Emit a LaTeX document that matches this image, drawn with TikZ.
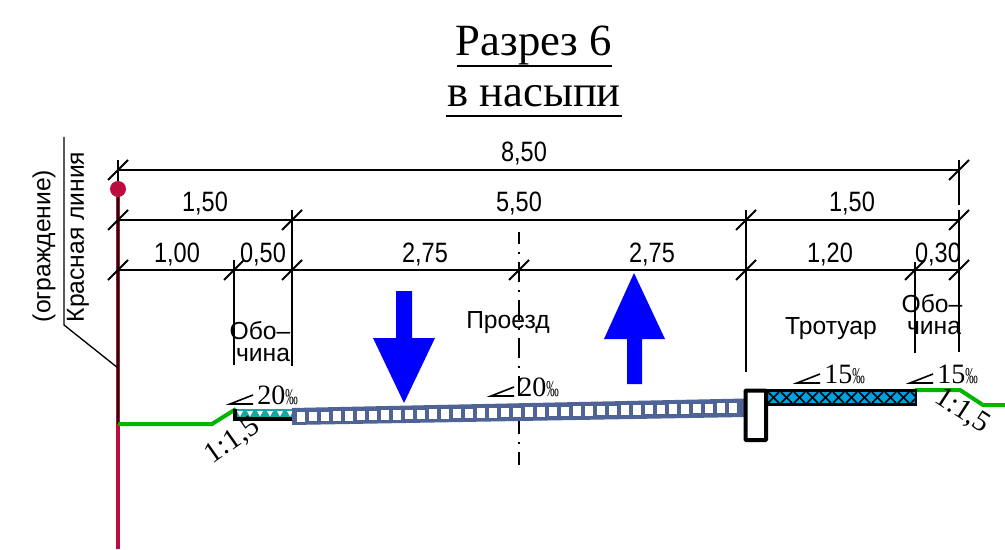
\documentclass[tikz,border=0pt]{standalone}
\usepackage{fontspec}
\usepackage{xcolor}
\setmainfont{Liberation Serif}
\newfontfamily\cadfont[FakeStretch=0.84]{Liberation Sans}
\newfontfamily\zonefont{Liberation Sans}
\newfontfamily\permfont[FakeStretch=0.55]{Liberation Serif}
\definecolor{roadblue}{HTML}{4F6397}
\definecolor{crimsonline}{HTML}{BE0A3C}
\definecolor{groundgreen}{HTML}{00B400}
\definecolor{walkblue}{HTML}{00A0E0}
\definecolor{shoulderteal}{HTML}{18A8A0}
\tikzset{
  dimline/.style={line width=1.5pt},
  extline/.style={line width=1.3pt},
  dimlabel/.style={font=\cadfont\fontsize{21}{21}\selectfont, inner sep=0pt},
  cadlabel/.style={font=\zonefont\fontsize{18.5}{18.5}\selectfont, inner sep=0pt},
  titlelabel/.style={font=\fontsize{33.5}{33.5}\selectfont, inner sep=0pt},
  slopelabel/.style={font=\fontsize{21}{21}\selectfont, inner sep=0pt, anchor=base west},
  permille/.style={font=\permfont\fontsize{17}{17}\selectfont, inner sep=0pt, anchor=base west},
  ratiolabel/.style={font=\fontsize{22}{22}\selectfont, inner sep=0pt},
  groundline/.style={groundgreen, line width=3pt},
  bigarrow/.style={fill=blue, draw=none}
}
\begin{document}
\begin{tikzpicture}[x=0.75pt,y=-0.75pt]
\useasboundingbox (0,0) rectangle (1005,549);
% title
\node[titlelabel] (title1) at (534,45) {Разрез 6};
\node[titlelabel] (title2) at (534,96) {в насыпи};
\draw[line width=1.8pt] (457,66) -- (612,66);
\draw[line width=1.8pt] (446,116) -- (622,116);
% red line
\draw[crimsonline, line width=2.4pt] (118,189) -- (118,549);
\draw[black, line width=1.2pt] (118,160) -- (118,424);
\fill[crimsonline] (118,189) circle (8);
% leader with rotated labels
\draw[line width=1pt] (64,137) -- (64,325) -- (118,368);
\node[rotate=90, cadlabel] (fence) at (44,246) {(ограждение)};
\node[rotate=90, cadlabel] (redline) at (78,237) {Красная линия};
% dimension chains
\draw[dimline] (118,170) -- (959,170);
\draw[dimline] (118,220) -- (959,220);
\draw[dimline] (118,270) -- (959,270);
\foreach \x/\y in {118/170, 959/170, 118/220, 292/220, 746/220, 959/220, 118/270, 234/270, 292/270, 519/270, 746/270, 915/270, 959/270}
    \draw[dimline] (\x-10,\y+10) -- (\x+10,\y-10);
\foreach \x/\ya/\yb in {292/210/366, 234/260/365, 746/210/372, 915/262/353, 959/160/205, 959/210/352}
    \draw[extline] (\x,\ya) -- (\x,\yb);
% axis
\draw[extline, dash pattern=on 15pt off 6pt on 1.5pt off 6pt, dash phase=6pt] (519,232) -- (519,465);
\foreach \x/\y/\t in {524/154/{8,50}, 205/204/{1,50}, 519/204/{5,50}, 852/204/{1,50}, 177/255/{1,00}, 263/255/{0,50}, 425/255/{2,75}, 652/255/{2,75}, 830/255/{1,20}, 938/255/{0,30}}
    \node[dimlabel] at (\x,\y) {\t};
% zone labels
\node[cadlabel] (shoulderA) at (260,331) {Обо–};
\node[cadlabel] (shoulderB) at (263,355) {чина};
\node[cadlabel] (driveway) at (508,323) {Проезд};
\node[cadlabel] (walkway) at (831,329) {Тротуар};
\node[cadlabel] (shoulderC) at (932,304) {Обо–};
\node[cadlabel] (shoulderD) at (934,328) {чина};
% ground
\draw[groundline] (118,424) -- (212,424) -- (236,409);
\draw[groundline] (915,390) -- (960,390) -- (983,405) -- (1005,405);
% left shoulder
\fill[shoulderteal] (235,408.5) rectangle (293,418);
\foreach \x in {240,250,...,290}
    \fill[white] (\x-3,411) -- (\x+3,411) -- (\x,416.5) -- cycle;
\draw[line width=3pt] (234.5,409) -- (234.5,419) -- (293,419);
% roadway
\fill[roadblue] (292,408) -- (746,398.5) -- (746,417) -- (292,425) -- cycle;
\foreach \i in {0,...,36}
    \fill[white] ({297+12*\i},{412-0.0205*(12*\i)}) rectangle ++(8,9.5);
% curb and sidewalk
\fill[black] (766,389) rectangle (917,406);
\begin{scope}
\clip (768,392.5) rectangle (915,402.5);
\fill[walkblue] (768,392) rectangle (915,403);
\foreach \x in {755,768,...,925} {
    \draw[line width=1.3pt] (\x,392) -- (\x+11,403);
    \draw[line width=1.3pt] (\x+11,392) -- (\x,403);
}
\end{scope}
\draw[line width=3pt, fill=white, rounded corners=0.5pt] (745.5,390.5) rectangle (766,440);
% traffic arrows
\fill[bigarrow] (396,291) -- (412,291) -- (412,338) -- (435,338) -- (404,403) -- (373,338) -- (396,338) -- cycle;
\fill[bigarrow] (627,384) -- (642,384) -- (642,339) -- (665,339) -- (634,273) -- (604,339) -- (627,339) -- cycle;
% slopes
\foreach \x/\y/\t in {230/404/20, 491/396/20, 797/383/15, 910/383/15} {
    \draw[line width=1.2pt] (\x+23,\y-9) -- (\x,\y) -- (\x+23,\y);
    \node[slopelabel] at (\x+27,\y) {\t};
    \node[permille] at (\x+55,\y) {‰};
}
\node[ratiolabel, rotate=35] (ratioL) at (233,441) {1:1,5};
\node[ratiolabel, rotate=-33] (ratioR) at (962,411) {1:1,5};
\end{tikzpicture}
\end{document}
